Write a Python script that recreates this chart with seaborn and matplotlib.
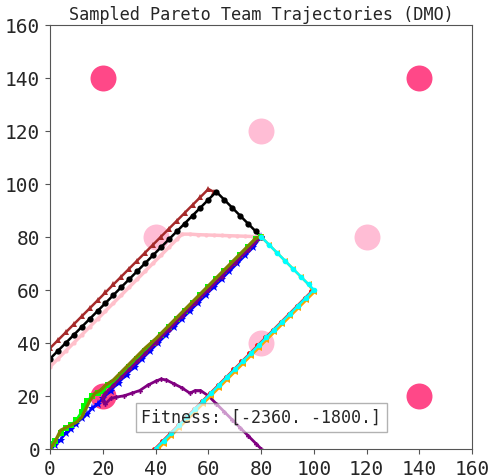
import matplotlib
matplotlib.use("Agg")
import matplotlib.pyplot as plt
import seaborn as sns

# target points
dark_x = [20, 140, 140, 20]
dark_y = [140, 140, 20, 20]
light_x = [80, 40, 120, 80]
light_y = [120, 80, 80, 40]

# trajectories
brown_x = [0, 3, 6, 9, 12, 15, 18, 21, 24, 27, 30, 33, 36, 39, 42, 45, 48, 51, 54, 57, 60, 62]
brown_y = [38, 41, 44, 47, 50, 53, 56, 59, 62, 65, 68, 71, 74, 77, 80, 83, 86, 89, 92, 95, 98, 97]

black_x = [0, 3, 6, 9, 12, 15, 18, 21, 24, 27, 30, 33, 36, 39, 42, 45, 48, 51, 54, 57, 60, 63,
           66, 69, 72, 75, 78, 80]
black_y = [34, 37, 40, 43, 46, 49, 52, 55, 58, 61, 64, 67, 70, 73, 76, 79, 82, 85, 88, 91, 94, 97,
           94, 91, 88, 85, 82, 80]

pink_x = [0, 3, 6, 9, 12, 15, 18, 21, 24, 27, 30, 33, 36, 39, 42, 45, 48, 50,
          53, 56, 59, 62, 65, 68, 71, 74, 77, 80]
pink_y = [31, 34, 37, 40, 43, 46, 49, 52, 55, 58, 61, 64, 67, 70, 73, 76, 79, 81,
          81, 80.8, 80.7, 80.6, 80.5, 80.4, 80.3, 80.2, 80.1, 80]

blue_x = [0, 2, 4, 6, 8, 10, 12, 14, 16, 18, 20, 23, 26, 29, 32, 35, 38, 41, 44, 47, 50,
          53, 56, 59, 62, 65, 68, 71, 74, 77, 80]
blue_y = [0, 1.5, 3.5, 6, 7.5, 9.5, 11.5, 13, 15.5, 17, 19, 22, 25, 28, 31, 34, 37, 40, 43, 46, 49,
          52, 55, 58, 61, 64, 67, 70, 73, 76, 80]

green_x = [0, 1, 2, 4, 6, 8, 10, 12, 13, 14, 16, 18, 20, 22, 24, 27, 30, 33, 36, 39, 42, 45,
           48, 51, 54, 57, 60, 63, 66, 69, 72, 75, 78, 80]
green_y = [0, 2, 3, 6, 8, 9, 11, 14, 16, 18, 20, 21, 22, 24, 25, 28, 31, 34, 37, 40, 43, 46,
           49, 52, 55, 58, 61, 64, 67, 70, 73, 76, 79, 80]

purple_x = [80, 78, 75, 72, 69, 66, 63, 60, 57, 55, 53, 50, 47, 44, 42, 40, 37, 34, 31, 28, 25,
            23, 21, 20, 20, 21, 24, 27, 30, 33, 36, 40, 45, 50, 55, 60, 65, 70, 75, 80]
purple_y = [0, 2, 5, 8, 11, 14, 17, 20, 22, 22, 21, 23, 24.5, 26, 26.3, 25.5, 24, 22, 21, 20, 19.5,
            19, 17, 18, 19.5, 21, 24, 27, 30, 33, 36, 40, 45, 50, 55, 60, 65, 70, 75, 80]

olive_x = [0, 2, 4, 6, 8, 10, 12, 14, 15, 17, 19, 21, 24, 27, 30, 33, 36, 40, 45, 50, 55, 60,
           65, 70, 75, 78, 80]
olive_y = [0, 3, 7, 8, 9, 10, 12, 16, 18, 21, 22, 24, 26, 29, 32, 35, 38, 41.5, 46.5, 51.5, 56.5, 61.5,
           66.5, 71.5, 76.5, 79.5, 80]

red_x = [39.5, 42.5, 45.5, 48.5, 51.5, 54.5, 57.5, 60.5, 63.5, 66.5, 69.5, 72.5, 75.5, 78.5, 81.5,
         84.5, 87.5, 90.5, 93.5, 96.5, 99]
red_y = [0, 3, 6, 9, 12, 15, 18, 21, 24, 27, 30, 33, 36, 39, 42, 45, 48, 51, 54, 57, 59.5]

orange_x = [80, 83, 86, 89, 92, 95, 98, 100, 97, 94, 91, 88, 85, 82, 79, 76, 73, 70, 67, 64,
            61, 58, 55, 52, 49, 46, 43, 41]
orange_y = [80, 77, 74, 71, 68, 65, 62, 59, 56, 53, 50, 47, 44, 41, 38, 35, 32, 29, 26, 23,
            20, 17, 14, 11, 8, 5, 2, 0]

cyan_x = [80, 83, 86, 89, 92, 95, 98, 100, 97, 94, 91, 88, 85, 82, 79, 76, 73, 70, 67, 64,
          61, 58, 55, 52, 49, 46, 43, 40]
cyan_y = [80, 77, 74, 71, 68, 65, 62, 60, 57, 54, 51, 48, 45, 42, 39, 36, 33, 30, 27, 24,
          21, 18, 15, 12, 9, 6, 3, 0]

sns.set_style("white")
plt.rcParams['font.family'] = ['DejaVu Sans Mono']

fig = plt.figure(figsize=(4.96, 4.77), dpi=100)
ax = fig.add_axes([0.101, 0.057, 0.851, 0.889])

ax.plot(dark_x, dark_y, 'o', color='#ff4888', ms=18.7, mew=0, zorder=1)
ax.plot(light_x, light_y, 'o', color='#ffbdd5', ms=18.7, mew=0, zorder=1)

def traj(x, y, color, marker, ms, lw=1.8):
    sns.lineplot(x=x, y=y, sort=False, estimator=None, color=color, marker=marker,
                 markersize=ms, markeredgewidth=0, linewidth=lw, ax=ax)

traj(pink_x, pink_y, 'pink', 'o', 3, lw=2.5)
traj(brown_x, brown_y, 'brown', '^', 4.5)
traj(black_x, black_y, 'black', 'o', 4.5)
traj(blue_x, blue_y, 'blue', '*', 6.5)
traj(green_x, green_y, 'lime', 's', 4)
traj(purple_x, purple_y, 'purple', 'P', 3.5, lw=2)
traj(olive_x, olive_y, 'olive', None, 0, lw=2.3)
traj(red_x, red_y, 'red', 'o', 3.5, lw=1.2)
traj(orange_x, orange_y, 'orange', '<', 5)
traj(cyan_x, cyan_y, 'cyan', 'o', 4)

ax.text(80, 12, "Fitness: [-2360. -1800.]", ha='center', va='center', fontsize=12,
        bbox=dict(facecolor='white', alpha=0.6, edgecolor='gray'))

ax.set_xlim(0, 160)
ax.set_ylim(0, 160)
ax.set_xticks([0, 20, 40, 60, 80, 100, 120, 140, 160])
ax.set_yticks([0, 20, 40, 60, 80, 100, 120, 140, 160])
ax.tick_params(labelsize=14, length=3.5, color='#555555', left=True, bottom=True)
for s in ax.spines.values():
    s.set_color('#555555')
ax.set_title("Sampled Pareto Team Trajectories (DMO)", fontsize=12.2, pad=4)

fig.savefig("out.png", dpi=100)
